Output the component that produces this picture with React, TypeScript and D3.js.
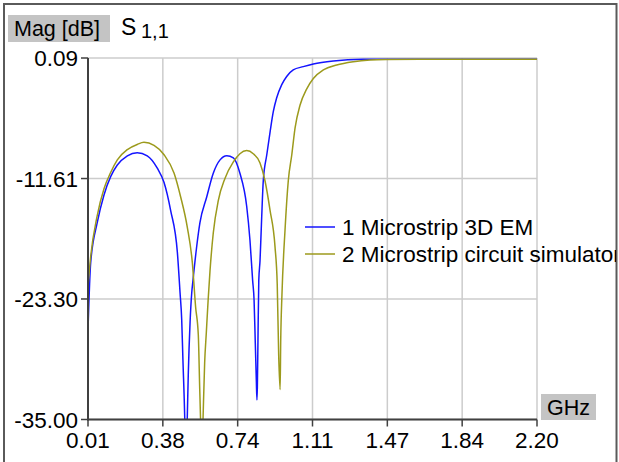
import React from 'react'
import * as d3 from 'd3'

// S1,1 magnitude (GHz, dB)
const emFreq = [0.01, 0.023, 0.055, 0.088, 0.121, 0.153, 0.202, 0.25, 0.299, 0.348, 0.381, 0.413, 0.446, 0.459, 0.467, 0.473, 0.482, 0.487, 0.494, 0.499, 0.508, 0.516, 0.522, 0.539, 0.556, 0.589, 0.621, 0.654, 0.687, 0.719, 0.751, 0.784, 0.8, 0.813, 0.82, 0.826, 0.831, 0.834, 0.836, 0.839, 0.843, 0.849, 0.856, 0.865, 0.882, 0.898, 0.914, 0.93, 0.955, 0.979, 1.011, 1.06, 1.109, 1.207, 1.353, 1.6, 2.2]
const emMag = [-26.3, -19.8, -15.9, -13.2, -11.4, -10.3, -9.4, -9.1, -9.4, -10.6, -12.0, -14.7, -18.8, -22.7, -25.3, -29.2, -35.0, -40, -35.0, -30.7, -25.5, -22.7, -21.5, -18.4, -15.9, -13.4, -11.1, -9.8, -9.4, -9.6, -11.1, -14.3, -17.6, -21.5, -23.4, -27.6, -31.2, -33.1, -31.9, -27.3, -21.5, -19.6, -16.0, -11.8, -9.3, -7.1, -5.1, -3.8, -2.5, -1.7, -1.07, -0.75, -0.49, -0.2, -0.04, -0.02, -0.02]

const circFreq = [0.01, 0.023, 0.055, 0.088, 0.121, 0.153, 0.202, 0.25, 0.283, 0.332, 0.381, 0.43, 0.462, 0.494, 0.519, 0.535, 0.548, 0.555, 0.559, 0.564, 0.571, 0.579, 0.587, 0.596, 0.605, 0.621, 0.646, 0.678, 0.719, 0.751, 0.784, 0.816, 0.849, 0.873, 0.898, 0.922, 0.933, 0.94, 0.947, 0.95, 0.956, 0.971, 0.987, 1.004, 1.02, 1.044, 1.077, 1.109, 1.158, 1.223, 1.304, 1.386, 1.464, 1.7, 2.2]
const circMag = [-22.1, -19.2, -15.2, -12.6, -11.0, -9.8, -8.8, -8.3, -8.1, -8.4, -9.3, -11.1, -13.4, -16.3, -19.8, -24.1, -26.8, -32.1, -35.0, -40, -35.0, -29.5, -26.6, -23.4, -20.6, -16.9, -13.7, -11.6, -10.0, -9.2, -8.9, -9.2, -10.1, -11.8, -14.7, -18.2, -21.9, -28.7, -32.1, -27.3, -22.9, -16.6, -11.8, -9.3, -6.7, -4.5, -2.9, -1.9, -1.07, -0.59, -0.27, -0.1, -0.05, -0.02, -0.02]

const xTicks = [0.01, 0.375, 0.74, 1.105, 1.47, 1.835, 2.2]
const xTickLabels = ['0.01', '0.38', '0.74', '1.11', '1.47', '1.84', '2.20']
const yTicks = [0.09, -11.61, -23.3, -35.0]
const yTickLabels = ['0.09', '-11.61', '-23.30', '-35.00']

const seriesNames = ['1 Microstrip 3D EM', '2 Microstrip circuit simulator']
const seriesColors = ['#1414ff', '#9c9a1c']

const W = 619
const H = 462
const left = 88
const right = 537
const top = 58
const bottom = 419.5
const font = '"Liberation Sans", Arial, sans-serif'

export default function App () {
  const x = d3.scaleLinear().domain([0.01, 2.2]).range([left, right])
  const y = d3.scaleLinear().domain([-35, 0.09]).range([bottom, top])

  const line = d3.line<[number, number]>()
    .x(d => x(d[0]))
    .y(d => y(d[1]))
    .curve(d3.curveMonotoneX)

  const series = [
    d3.zip(emFreq, emMag) as [number, number][],
    d3.zip(circFreq, circMag) as [number, number][]
  ]

  return (
    <svg width={W} height={H} style={{ position: 'absolute', left: 0, top: 0, background: '#fff' }} fontFamily={font}>
      <defs>
        <clipPath id='plot'>
          <rect x={left} y={top} width={right - left} height={bottom - top} />
        </clipPath>
        <clipPath id='frame'>
          <rect x={5} y={5} width={611} height={460} />
        </clipPath>
      </defs>
      <rect x={0} y={0} width={W} height={H} fill='#fff' />
      <rect x={4} y={4} width={612.5} height={470} fill='none' stroke='#5a5a5a' strokeWidth={2} />

      {/* grid */}
      {xTicks.map((t, i) => (
        <line key={'gx' + i} x1={x(t)} x2={x(t)} y1={top} y2={bottom} stroke='#cccccc' strokeWidth={1.5} />
      ))}
      {yTicks.map((t, i) => (
        <line key={'gy' + i} x1={left} x2={right} y1={y(t)} y2={y(t)} stroke='#cccccc' strokeWidth={1.5} />
      ))}

      {/* curves */}
      <g clipPath='url(#plot)'>
        {series.map((s, i) => (
          <path key={i} d={line(s) || ''} fill='none' stroke={seriesColors[i]} strokeWidth={1.5} />
        ))}
      </g>

      {/* axes */}
      <line x1={left} x2={left} y1={top} y2={bottom + 1} stroke='#404040' strokeWidth={2} />
      <line x1={left - 1} x2={right} y1={bottom} y2={bottom} stroke='#404040' strokeWidth={2} />
      {yTicks.map((t, i) => (
        <g key={'ty' + i}>
          <line x1={left - 7} x2={left} y1={y(t)} y2={y(t)} stroke='#404040' strokeWidth={1.5} />
          <text x={left - 10} y={y(t)} dy='0.36em' textAnchor='end' fontSize={22.5} fill='#000'>{yTickLabels[i]}</text>
        </g>
      ))}
      {xTicks.map((t, i) => (
        <g key={'tx' + i}>
          <line x1={x(t)} x2={x(t)} y1={bottom} y2={bottom + 7} stroke='#404040' strokeWidth={1.5} />
          <text x={x(t)} y={448} textAnchor='middle' fontSize={22.5} fill='#000'>{xTickLabels[i]}</text>
        </g>
      ))}

      {/* titles */}
      <rect x={8} y={15} width={102} height={27} fill='#c4c4c4' />
      <text x={14} y={36} fontSize={21.5} fill='#000'>Mag [dB]</text>
      <text x={121} y={35} fontSize={23} fill='#000'>S</text>
      <text x={141} y={38} fontSize={20} fill='#000'>1,1</text>

      <rect x={541} y={394} width={55} height={26} fill='#c4c4c4' />
      <text x={568.5} y={415} textAnchor='middle' fontSize={21.5} fill='#000'>GHz</text>

      {/* legend */}
      <g clipPath='url(#frame)'>
        {seriesNames.map((n, i) => (
          <g key={'lg' + i}>
            <line x1={305} x2={335} y1={227 + i * 27} y2={227 + i * 27} stroke={seriesColors[i]} strokeWidth={1.5} />
            <text x={342} y={227 + i * 27} dy='0.36em' fontSize={22.5} fill='#000'>{n}</text>
          </g>
        ))}
      </g>
    </svg>
  )
}
